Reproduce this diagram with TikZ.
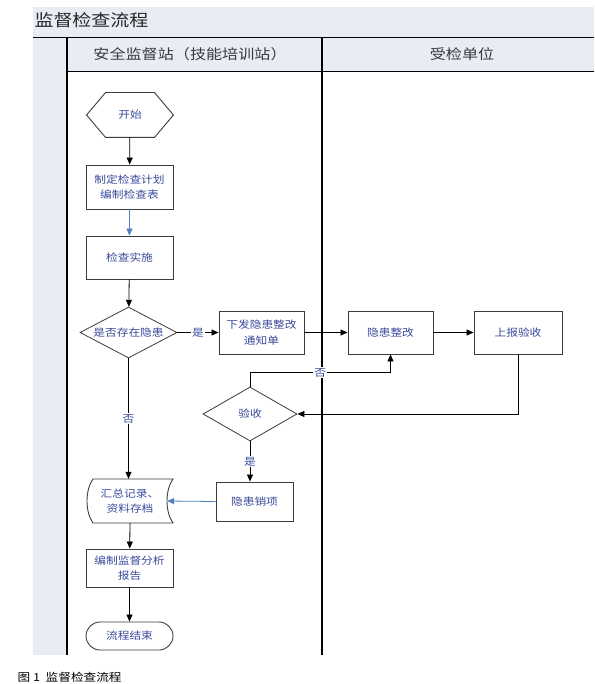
\documentclass[tikz,border=0pt]{standalone}
\usepackage{fontspec}
\newfontfamily\cjk[FakeStretch=1.15]{Noto Sans CJK SC}
\usetikzlibrary{arrows.meta,positioning,calc,shapes.geometric}
\definecolor{lnPanel}{HTML}{E7ECF5}
\definecolor{lnInk}  {HTML}{3A4A9C}
\definecolor{lnLine} {HTML}{3C3C3C}
\definecolor{lnBlue} {HTML}{4F7FBF}
\definecolor{lnHead} {HTML}{3A3A3A}

\begin{document}
\begin{tikzpicture}[x=1pt,y=-1pt,font=\cjk\fontsize{10.2}{15.5}\selectfont,
      stepbox/.style={draw=lnLine,line width=0.9pt,minimum width=87pt,
                      minimum height=43pt,align=center,text=lnInk,inner sep=1pt},
      query/.style={diamond,draw=lnLine,line width=0.8pt,inner sep=0pt,text=lnInk},
      flow/.style={-{Triangle[length=7pt,width=6pt]},line width=0.8pt},
      lbl/.style={fill=white,text=lnInk,inner sep=1pt}]

    \useasboundingbox (0,0) rectangle (594,684);

    % swimlane frame
    \fill[lnPanel] (33,7) rectangle (594,655);
    \fill[white] (67,72) rectangle (594,655);
    \draw[line width=1pt] (33,38) -- (594,38);
    \draw[line width=1pt] (67,72) -- (594,72);
    \draw[line width=1.2pt] (67,38) -- (67,655);
    \draw[line width=1.2pt] (322,38) -- (322,655);

    \node[anchor=west,font=\cjk\fontsize{16.5}{18}\selectfont,text=black!85]
      (title) at (31,20) {监督检查流程};
    \node[font=\cjk\fontsize{14}{16}\selectfont,text=lnHead] (laneA) at (190,54)
      {安全监督站（技能培训站）};
    \node[font=\cjk\fontsize{14}{16}\selectfont,text=lnHead] (laneB) at (462,54)
      {受检单位};

    % steps
    \node[stepbox,draw=none,minimum width=86pt,minimum height=44pt] (start) at (130,115) {开始};
    \draw[lnLine,line width=0.9pt] (start.west) -- ([xshift=19pt]start.north west)
      -- ([xshift=-19pt]start.north east) -- (start.east)
      -- ([xshift=-19pt]start.south east) -- ([xshift=19pt]start.south west) -- cycle;
    \node[stepbox,minimum height=44pt] (plan) at (129.5,187) {制定检查计划\\编制检查表};
    \node[stepbox] (check) at (129.5,257.5) {检查实施};
    \node[query,minimum width=97pt,minimum height=51pt,shape aspect=1.9] (hazard)
      at (128.5,332.5) {是否存在隐患};
    \node[stepbox,minimum width=85pt] (notice) at (261.5,332.5) {下发隐患整改\\通知单};
    \node[stepbox,minimum width=85pt] (rectify) at (390.5,332.5) {隐患整改};
    \node[stepbox,minimum width=88pt] (submit) at (518,332.5) {上报验收};
    \node[query,minimum width=94pt,minimum height=54pt,shape aspect=1.7] (accept)
      at (250,414) {验收};
    \node[stepbox,minimum width=77pt,minimum height=39pt] (closeout) at (254.5,501.5) {隐患销项};
    \node[align=center,text=lnInk,minimum width=74pt,minimum height=44pt,inner sep=0pt]
      (archive) at (130,501) {汇总记录、\\资料存档};
    \draw[lnLine,line width=0.9pt] (93,479) -- (173,479)
      .. controls (165,490) and (165,512) .. (173,523) -- (93,523)
      .. controls (85,512) and (85,490) .. (93,479) -- cycle;
    \node[stepbox,minimum height=38pt] (analysis) at (129.5,568) {编制监督分析\\报告};
    \node[stepbox,rounded corners=14pt,minimum height=28pt] (finish) at (129.5,636) {流程结束};

    % connectors
    \draw[flow] (start) -- (plan);
    \draw[flow,lnBlue] (plan) -- (check);
    \draw[flow] (check) -- (hazard);
    \draw[flow] (hazard) -- node[lbl] {是} (notice);
    \draw[flow] (notice) -- (rectify);
    \draw[flow] (rectify) -- (submit);
    \draw[flow] (submit.south) |- (accept.east);
    \draw[flow] (accept.north) |- node[lbl,pos=0.75] {否}
      ($(rectify.south)+(0,18)$) -- (rectify.south);
    \draw[flow] (accept.south) -- node[lbl] {是} (accept.south |- closeout.north);
    \draw[flow] (hazard.south) -- node[lbl] {否} (hazard.south |- archive.north);
    \draw[flow,lnBlue] (closeout.west) -- (archive.east);
    \draw[flow] (archive.south) -- (analysis);
    \draw[flow] (analysis) -- (finish);

    \node[anchor=west,font=\cjk\fontsize{11}{13}\selectfont] (caption) at (14,677)
      {图 1\ \ 监督检查流程};
  \end{tikzpicture}
\end{document}
